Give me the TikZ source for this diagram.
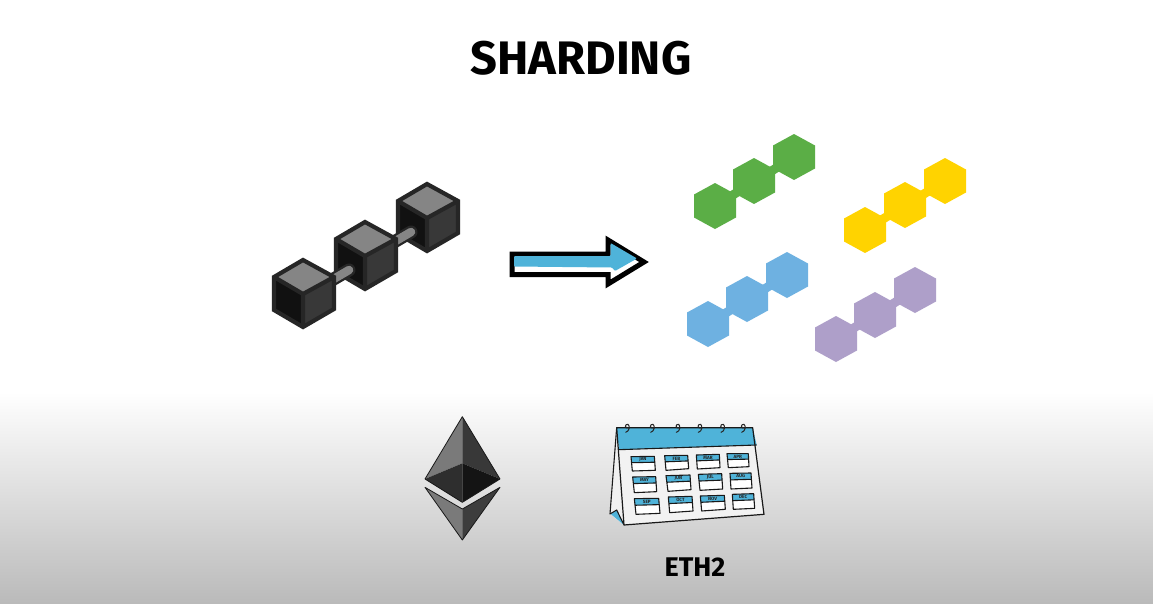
\documentclass[tikz,border=0pt]{standalone}
\usepackage{fontspec}
\setmainfont{Fira Sans}
\usetikzlibrary{calc}
\definecolor{cubetop}{HTML}{858585}
\definecolor{cubeedge}{HTML}{262626}
\definecolor{cubeleft}{HTML}{111111}
\definecolor{cuberight}{HTML}{383838}
\definecolor{skyblue}{HTML}{4FB3D9}
\definecolor{shardgreen}{HTML}{5BAE46}
\definecolor{shardyellow}{HTML}{FFD300}
\definecolor{shardblue}{HTML}{6EB1E1}
\definecolor{shardpurple}{HTML}{AE9FC9}
\tikzset{
  cubeface/.style={draw=cubeedge,line width=4.2pt,line join=miter},
  capt/.style={text=black,inner sep=0pt},
  mon/.style={font=\fontsize{4.6}{5}\selectfont\bfseries,text=black!85,inner sep=0pt},
  calline/.style={draw=black!90,line width=1.1pt,line join=round},
}
\newcommand{\hexa}[3]{\fill[#3] (#1,#2-23) -- ++(21,11.5) -- ++(0,23) -- ++(-21,11.5) -- ++(-21,-11.5) -- ++(0,-23) -- cycle;}
\newcommand{\hexrow}[7]{%
  \draw[#7,line width=9pt] (#1,#2) -- (#5,#6);
  \hexa{#1}{#2}{#7}\hexa{#3}{#4}{#7}\hexa{#5}{#6}{#7}}
\newcommand{\cube}[2]{%
 \begin{scope}[shift={(#1,#2)}]
  \fill[cuberight] (0,0) -- (31,-17) -- (31,15) -- (0,33) -- cycle;
  \fill[cubeleft] (0,0) -- (-29,-17) -- (-29,16) -- (0,33) -- cycle;
  \fill[cubetop] (0,0) -- (31,-17) -- (0,-34) -- (-29,-17) -- cycle;
  \draw[cubeface] (0,-34) -- (31,-17) -- (31,15) -- (0,33) -- (-29,16) -- (-29,-17) -- cycle;
  \draw[cubeface] (-29,-17) -- (0,0) -- (31,-17) (0,0) -- (0,33);
 \end{scope}}
\newcommand{\rod}[4]{%
  \draw[cubeedge,line width=13pt,line cap=round] (#1,#2) -- (#3,#4);
  \draw[cubetop,line width=8.5pt,line cap=round] (#1,#2) -- (#3,#4);}
\newcommand{\calbox}[9]{%
 \fill[white] (#1,#2) -- (#3,#4) -- (#5,#6) -- (#7,#8) -- cycle;
 \fill[skyblue] (#1,#2) -- (#3,#4) -- ($(#3,#4)!0.42!(#5,#6)$) -- ($(#1,#2)!0.42!(#7,#8)$) -- cycle;
 \draw[calline] (#1,#2) -- (#3,#4) -- (#5,#6) -- (#7,#8) -- cycle;
 \draw[calline] ($(#3,#4)!0.42!(#5,#6)$) -- ($(#1,#2)!0.42!(#7,#8)$);
 \node[mon] at ($($(#1,#2)!0.5!(#3,#4)$)!0.21!($(#7,#8)!0.5!(#5,#6)$)$) {#9};}
\newcommand{\ring}[1]{\draw[black!85,line width=1pt,line cap=round] (#1-3,52) .. controls (#1+9,49) and (#1+10,32) .. (#1+4,28) .. controls (#1-6,26) and (#1-8,42) .. (#1+8,39);}
\begin{document}
\begin{tikzpicture}[x=1pt,y=-1pt]
\useasboundingbox (0,0) rectangle (1153,603);
\fill[white] (0,0) rectangle (1153,603);
\shade[top color=white,bottom color=black!27] (0,392) rectangle (1153,603);

\node[capt,font=\fontsize{47}{47}\selectfont\bfseries] (title) at (581,58) {SHARDING};

% source chain
\cube{427}{218}
\rod{365}{259}{411}{232}
\cube{365}{256}
\rod{303}{297}{349}{270}
\cube{303}{294}

% arrow
\draw[black,line width=5pt,line join=miter,fill=white]
  (512,254) -- (608,254) -- (608,240) -- (644,262) -- (608,284) -- (608,274.5) -- (512,274.5) -- cycle;
\fill[skyblue,rounded corners=1pt] (514,256) -- (610.5,256) -- (610.5,243) -- (637,258.5) -- (615,271) -- (612,267.5) -- (514,266.5) -- cycle;

% shards
\hexrow{715}{206}{754}{181}{794}{157}{shardgreen}
\hexrow{865}{230}{905}{205}{945}{181}{shardyellow}
\hexrow{708}{324}{747}{299}{787}{275}{shardblue}
\hexrow{836}{339}{875}{315}{915}{290}{shardpurple}

% ether
\begin{scope}[shift={(415,410)},x=0.3333pt,y=-0.3333pt]
 \fill[black!52] (142,20) -- (30,207) -- (142,160) -- cycle;
 \fill[black!78] (142,20) -- (255,207) -- (142,160) -- cycle;
 \fill[black!82] (30,207) -- (142,160) -- (142,277) -- cycle;
 \fill[black!92] (255,207) -- (142,160) -- (142,277) -- cycle;
 \fill[black!52] (30,232) -- (142,297) -- (142,390) -- cycle;
 \fill[black!76] (255,232) -- (142,297) -- (142,390) -- cycle;
 \draw[black!90,line width=.8pt,line join=round] (142,20) -- (30,207) -- (142,277) -- (255,207) -- cycle (30,232) -- (142,297) -- (255,232) -- (142,390) -- cycle;
\end{scope}

% calendar
\begin{scope}[shift={(600,415)},x=0.3333pt,y=-0.3333pt]
 \fill[black!6] (50,38) -- (30,297) -- (72,330) -- cycle;
 \fill[skyblue] (50,285) -- (72,330) -- (32,297) -- cycle;
 \draw[calline] (50,38) -- (30,297) -- (50,285) -- (72,330);
 \fill[black!5] (57,104) -- (470,90) -- (492,298) -- (72,330) -- cycle;
 \fill[skyblue] (50,38) -- (458,38) -- (470,90) -- (57,104) -- cycle;
 \draw[calline,line width=1.2pt] (50,38) -- (458,38) -- (492,298) -- (72,330) -- cycle;
 \draw[calline] (57,104) -- (470,90);
 \foreach \rx in {80,155,232,298,366,428}{\ring{\rx}}
 \calbox{93}{125}{163}{124}{166}{166}{97}{168}{JAN}
 \calbox{194}{122}{263}{121}{266}{161}{198}{166}{FEB}
 \calbox{289}{120}{358}{118}{360}{158}{292}{162}{MAR}
 \calbox{381}{116}{445}{116}{447}{155}{385}{158}{APR}
 \calbox{98}{186}{167}{185}{170}{230}{103}{233}{MAY}
 \calbox{198}{182}{270}{180}{273}{224}{204}{229}{JUN}
 \calbox{295}{178}{365}{176}{368}{222}{300}{226}{JUL}
 \calbox{390}{175}{453}{174}{456}{219}{393}{222}{AUG}
 \calbox{103}{251}{176}{250}{180}{295}{108}{298}{SEP}
 \calbox{205}{246}{276}{244}{279}{288}{209}{293}{OCT}
 \calbox{301}{243}{373}{241}{376}{283}{305}{288}{NOV}
 \calbox{397}{238}{461}{236}{464}{280}{400}{283}{DEC}
\end{scope}

\node[capt,font=\fontsize{27}{27}\selectfont\bfseries] (eth) at (695,567) {ETH2};
\end{tikzpicture}
\end{document}
